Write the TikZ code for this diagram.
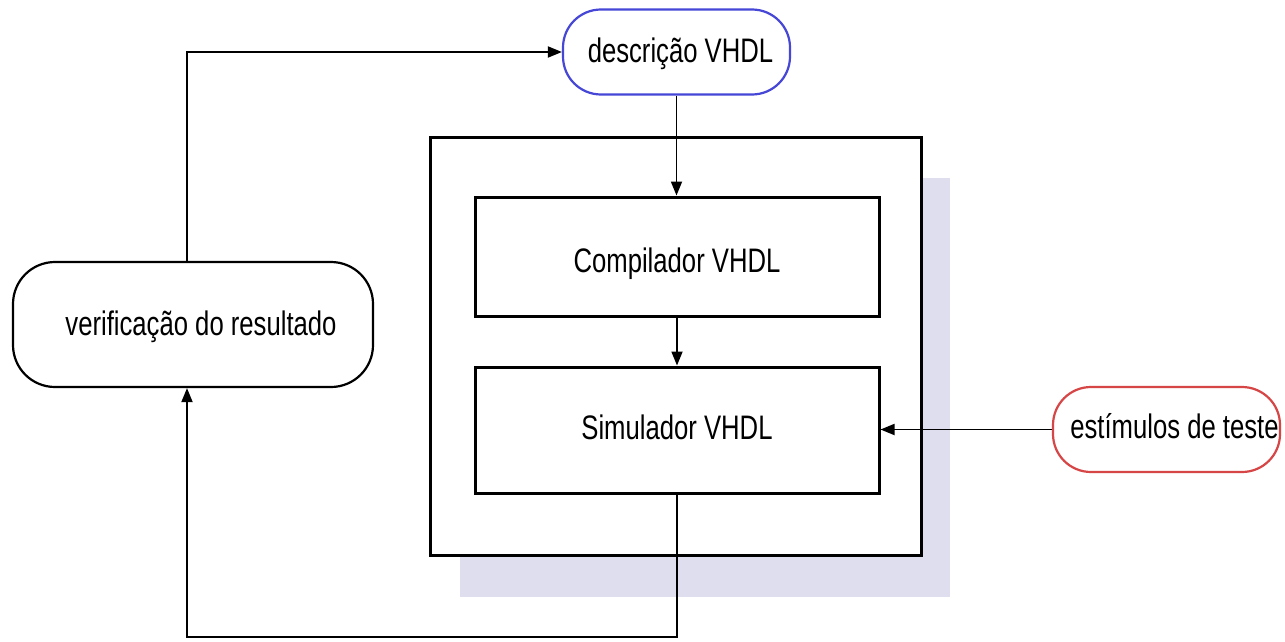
\documentclass[tikz,border=0pt]{standalone}
\usepackage{fontspec}
\setmainfont{Liberation Sans}
\usetikzlibrary{arrows.meta}
\definecolor{shadowc}{RGB}{222,222,238}
\definecolor{bluec}{RGB}{70,70,215}
\definecolor{redc}{RGB}{215,70,70}
\newcommand{\lbl}[1]{\scalebox{0.755}[1]{\fontsize{34}{38}\selectfont #1}}
\begin{document}
\begin{tikzpicture}[x=1pt,y=-1pt,
  box/.style={draw=black, line width=3pt, fill=white, inner sep=0pt, text depth=0pt},
  term/.style={draw=black, line width=2.2pt, fill=white, inner sep=0pt, rounded corners=38pt, text depth=0pt},
  shadowbox/.style={fill=shadowc, inner sep=0pt},
  conn/.style={line width=1.8pt, -{Triangle[length=14pt,width=11pt]}},
  plain/.style={line width=1.8pt}]
\useasboundingbox (0,0) rectangle (1285,642);
\fill[white] (0,0) rectangle (1285,642);
% shadow and outer box
\node[shadowbox, minimum width=490pt, minimum height=419pt] (shadow) at (705,387.5) {};
\node[box, minimum width=491pt, minimum height=418pt] (outer) at (675.5,346) {};
\node[box, minimum width=404pt, minimum height=119pt, text height=31pt] (comp) at (677,256.5) {\lbl{Compilador VHDL}};
\node[box, minimum width=404pt, minimum height=126pt, text height=18pt] (sim) at (677,430) {\lbl{Simulador VHDL}};
% terminals
\node[term, draw=bluec, minimum width=227pt, minimum height=85pt, text height=22pt] (top) at (676.5,52) {\hspace*{8pt}\lbl{descrição VHDL}};
\node[term, rounded corners=42pt, minimum width=360pt, minimum height=125pt, text height=21pt] (verif) at (193,324.5) {\hspace*{16pt}\lbl{verificação do resultado}};
\node[term, draw=redc, minimum width=227pt, minimum height=85pt, text height=17pt] (stim) at (1166.5,429.5) {\hspace*{16pt}\lbl{estímulos de teste}};
% connectors
\coordinate (c2) at (187,637);
\coordinate (c3) at (187,52);
\draw[conn] (top.south) -- (top.south |- comp.north);
\draw[conn] (comp.south) -- (sim.north);
\draw[conn] (stim.west) -- (stim.west -| sim.east);
\draw[conn] (sim.south) |- (c2) -- (c2 |- verif.south);
\draw[conn] (c3 |- verif.north) -- (c3) -- (top.west);
\end{tikzpicture}
\end{document}
